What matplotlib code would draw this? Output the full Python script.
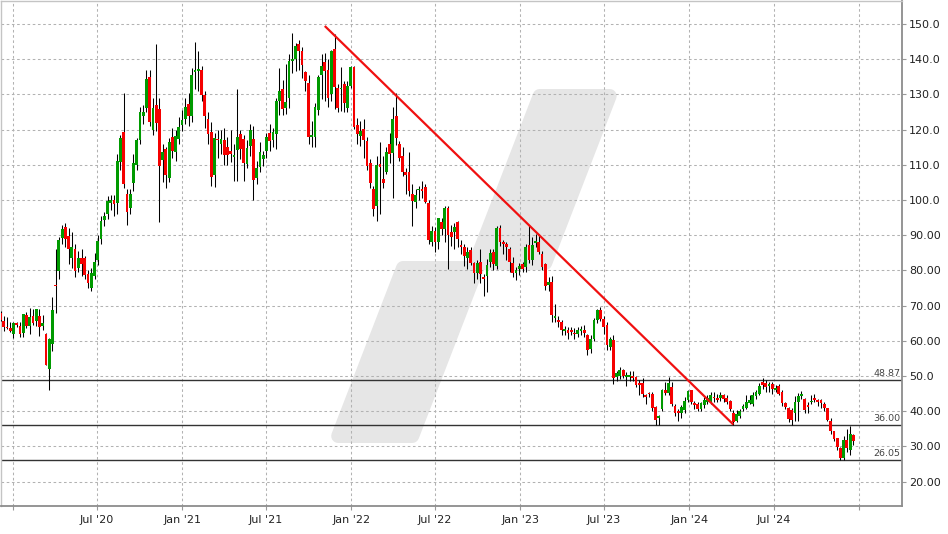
import matplotlib
matplotlib.use("Agg")
import matplotlib.pyplot as plt
import matplotlib.dates as mdates
from matplotlib.patches import Polygon
import numpy as np
import pandas as pd

# weekly candles, first week ending 2019-12-06
opens = [67.8, 65.7, 64.0, 63.5, 61.9, 65.0, 64.3, 62.1, 67.4, 64.1,
         66.9, 65.5, 67.1, 64.3, 61.9, 52.1, 59.0, 75.8, 79.8, 89.1,
         92.3, 89.8, 83.6, 86.0, 80.8, 83.4, 83.4, 78.9, 75.1, 78.4,
         82.9, 88.9, 94.4, 96.1, 99.2, 100.1, 99.2, 110.8, 119.2, 101.8,
         97.6, 104.9, 109.9, 117.0, 123.8, 126.1, 134.8, 120.0, 126.9, 125.8,
         111.2, 114.5, 106.3, 117.9, 113.7, 117.4, 121.4, 123.1, 127.3, 123.8,
         136.3, 136.5, 136.8, 129.9, 123.0, 119.2, 107.2, 117.3, 115.8, 116.9,
         115.0, 113.8, 112.3, 114.1, 118.6, 117.2, 110.1, 115.3, 117.3, 106.3,
         109.4, 111.7, 113.8, 119.0, 117.0, 118.8, 128.0, 131.5, 126.1, 128.9,
         139.6, 140.1, 144.2, 142.2, 136.2, 133.2, 117.9, 117.8, 125.5, 135.6,
         139.1, 136.9, 130.2, 142.8, 131.9, 131.5, 132.9, 126.1, 132.4, 137.8,
         121.3, 118.2, 120.1, 116.8, 110.6, 103.2, 98.3, 110.1, 105.9, 107.8,
         115.8, 113.2, 123.9, 116.0, 112.5, 107.8, 107.8, 101.6, 99.3, 102.7,
         103.1, 103.7, 99.2, 88.0, 91.3, 88.0, 93.7, 91.6, 97.8, 90.8,
         90.8, 93.7, 87.1, 86.6, 83.6, 85.7, 82.1, 79.2, 82.4, 78.1,
         78.4, 82.5, 85.2, 81.3, 92.0, 88.0, 87.5, 86.0, 82.1, 79.2,
         80.5, 81.9, 80.9, 87.1, 82.8, 87.9, 88.0, 84.7, 81.8, 75.9,
         76.8, 66.6, 66.0, 65.4, 62.7, 63.1, 63.1, 62.2, 61.9, 62.8,
         63.0, 61.6, 57.7, 60.5, 65.9, 68.8, 66.3, 64.4, 58.3, 60.2,
         49.8, 50.1, 51.7, 49.8, 49.8, 50.0, 49.6, 47.9, 47.9, 44.6,
         45.2, 44.8, 41.2, 38.1, 40.6, 46.0, 45.2, 46.9, 41.4, 40.0,
         39.5, 40.3, 43.1, 46.0, 42.4, 42.0, 40.5, 41.7, 42.6, 42.5,
         44.1, 43.8, 43.6, 44.6, 43.6, 42.9, 39.5, 37.3, 38.6, 40.6,
         41.0, 42.4, 42.0, 44.3, 45.0, 48.3, 47.9, 47.1, 47.7, 46.0,
         47.1, 45.5, 42.4, 41.0, 40.2, 39.6, 42.5, 44.2, 43.4, 41.8,
         42.5, 43.7, 43.2, 43.2, 42.1, 40.9, 37.1, 34.3, 32.3, 29.4,
         26.7, 31.9, 28.9, 33.3]
highs = [68.5, 67.1, 66.7, 65.2, 65.2, 65.2, 65.2, 67.6, 68.1, 69.3,
         69.0, 69.0, 69.0, 67.4, 62.1, 60.8, 72.4, 86.0, 89.5, 92.9,
         93.5, 92.1, 91.0, 87.5, 85.5, 86.0, 84.0, 80.0, 80.8, 85.0,
         90.0, 95.5, 96.5, 101.0, 101.5, 101.5, 113.0, 118.5, 130.3, 103.0,
         103.0, 113.0, 117.5, 126.5, 127.0, 137.0, 137.0, 129.0, 144.3, 128.9,
         116.0, 115.0, 117.5, 120.5, 120.0, 123.5, 125.5, 129.0, 130.5, 137.5,
         144.9, 142.4, 138.0, 131.0, 125.0, 122.0, 119.0, 120.0, 120.0, 120.5,
         118.0, 120.0, 116.0, 131.4, 120.0, 118.5, 117.0, 121.5, 121.0, 111.0,
         116.5, 114.0, 119.0, 121.5, 120.5, 129.0, 137.5, 134.0, 138.5, 141.5,
         147.5, 144.5, 145.5, 143.5, 136.5, 135.5, 122.5, 127.5, 135.5, 141.4,
         141.6, 140.0, 142.6, 147.1, 132.9, 137.8, 133.8, 133.8, 138.1, 138.1,
         123.4, 122.5, 122.9, 118.0, 111.5, 104.0, 112.5, 116.5, 112.5, 115.1,
         119.0, 126.4, 130.5, 116.8, 114.9, 109.2, 113.5, 104.5, 103.0, 104.0,
         105.4, 104.5, 100.1, 92.5, 92.3, 95.0, 95.0, 98.2, 98.2, 93.0,
         93.5, 94.0, 88.5, 87.5, 86.5, 86.5, 82.5, 83.0, 86.1, 79.0,
         83.3, 86.1, 86.1, 92.7, 93.0, 88.5, 88.0, 86.5, 83.7, 81.0,
         82.0, 82.5, 87.5, 92.9, 89.4, 90.4, 90.4, 85.5, 82.0, 78.1,
         78.3, 70.5, 67.0, 66.0, 64.2, 63.9, 64.0, 63.5, 64.0, 64.2,
         64.5, 62.0, 61.5, 66.5, 69.1, 69.5, 67.0, 65.3, 61.1, 61.5,
         51.5, 52.5, 52.0, 51.2, 51.4, 51.4, 50.0, 48.8, 49.3, 45.0,
         45.5, 45.4, 41.5, 38.9, 46.4, 48.2, 49.6, 48.3, 42.0, 40.7,
         41.8, 44.1, 46.0, 46.0, 42.9, 42.5, 42.6, 44.1, 44.6, 45.5,
         45.5, 45.0, 45.5, 45.0, 44.6, 43.1, 40.3, 40.3, 40.5, 42.0,
         44.6, 44.6, 45.5, 46.0, 48.0, 49.3, 48.8, 48.3, 48.3, 47.5,
         47.8, 46.0, 42.5, 41.2, 40.9, 44.2, 45.1, 45.6, 43.8, 42.5,
         44.6, 44.9, 43.5, 43.5, 42.5, 41.0, 38.0, 34.5, 32.5, 29.8,
         33.0, 34.9, 35.9, 33.5]
lows = [65.5, 62.9, 63.3, 62.5, 60.8, 64.0, 61.0, 61.0, 63.5, 61.9,
        64.5, 64.3, 61.4, 63.0, 53.1, 46.0, 57.1, 68.0, 77.5, 87.5,
        86.5, 81.7, 80.8, 78.0, 79.5, 78.4, 77.5, 75.1, 74.0, 77.5,
        81.5, 87.5, 92.5, 94.5, 97.0, 95.5, 96.0, 108.5, 103.5, 93.0,
        96.0, 102.5, 108.5, 116.0, 121.5, 125.0, 121.0, 118.5, 119.5, 93.6,
        105.0, 103.5, 105.0, 112.0, 111.0, 116.0, 119.5, 121.5, 121.0, 122.0,
        131.5, 131.0, 128.0, 120.5, 115.8, 104.0, 103.7, 112.0, 113.0, 109.8,
        110.0, 110.8, 105.5, 105.5, 111.5, 105.5, 109.0, 112.5, 100.1, 104.5,
        108.0, 109.5, 112.0, 114.0, 115.0, 114.5, 124.0, 124.0, 124.5, 126.0,
        136.0, 136.5, 137.0, 134.5, 131.0, 116.0, 114.9, 115.0, 124.0, 128.6,
        128.1, 126.3, 128.2, 125.8, 125.1, 125.3, 125.1, 125.1, 131.9, 120.1,
        116.0, 115.4, 112.0, 108.5, 103.5, 95.5, 94.0, 96.0, 103.5, 107.3,
        110.5, 100.6, 115.6, 111.1, 106.8, 101.6, 101.0, 92.6, 97.8, 100.0,
        100.5, 99.2, 87.5, 87.0, 85.2, 86.0, 90.0, 88.0, 80.3, 87.0,
        86.0, 86.5, 84.5, 81.3, 80.5, 81.5, 76.5, 77.5, 76.5, 72.6,
        73.8, 81.0, 80.0, 80.5, 87.0, 84.7, 83.0, 79.5, 78.1, 77.3,
        78.8, 79.5, 79.5, 82.0, 81.5, 86.5, 84.5, 80.0, 74.5, 74.0,
        65.4, 65.3, 64.0, 61.5, 61.5, 60.6, 61.5, 60.5, 61.0, 61.5,
        61.0, 55.9, 56.5, 60.0, 65.0, 65.5, 62.0, 57.5, 57.5, 47.8,
        48.5, 49.0, 49.5, 47.1, 48.5, 48.5, 47.0, 44.5, 44.1, 42.0,
        44.0, 40.0, 36.0, 36.0, 40.0, 44.5, 44.5, 41.5, 38.5, 37.3,
        38.1, 39.5, 42.5, 42.0, 40.5, 40.0, 40.0, 41.0, 42.0, 42.0,
        42.6, 42.5, 43.0, 42.5, 42.0, 40.0, 36.0, 36.8, 38.0, 40.0,
        40.5, 42.0, 41.5, 43.5, 44.5, 46.2, 45.5, 45.5, 45.0, 45.5,
        44.5, 41.5, 40.5, 37.0, 36.1, 37.1, 37.1, 43.5, 39.5, 39.5,
        42.0, 42.5, 41.5, 41.0, 40.0, 37.1, 33.5, 31.5, 29.0, 26.2,
        26.1, 28.5, 27.6, 30.5]
closes = [66.0, 64.0, 63.5, 62.9, 65.0, 64.4, 61.9, 67.6, 64.1, 66.7,
          65.0, 68.9, 63.8, 65.0, 53.1, 60.5, 68.7, 75.5, 88.5, 91.6,
          88.8, 86.0, 86.5, 79.8, 83.6, 81.7, 78.8, 76.5, 79.3, 82.5,
          88.3, 94.0, 95.3, 99.7, 100.1, 98.9, 111.0, 117.6, 104.4, 96.7,
          101.8, 110.4, 117.0, 124.9, 124.9, 134.3, 122.2, 126.1, 121.9, 109.7,
          113.6, 107.2, 116.4, 114.0, 118.1, 120.7, 122.8, 126.3, 123.7, 135.6,
          137.0, 137.1, 129.9, 123.8, 118.6, 106.6, 117.6, 116.9, 117.3, 112.7,
          112.7, 113.1, 112.9, 117.9, 114.5, 110.5, 114.8, 120.0, 105.8, 109.1,
          113.6, 112.9, 117.9, 116.7, 119.2, 128.0, 130.8, 125.8, 127.7, 139.6,
          140.1, 143.6, 142.2, 138.2, 133.9, 117.8, 118.4, 126.3, 134.8, 137.9,
          136.7, 128.9, 142.4, 132.2, 126.1, 131.9, 127.4, 132.4, 137.8, 120.8,
          118.7, 119.6, 117.0, 109.7, 104.9, 97.3, 110.0, 109.4, 104.9, 113.6,
          113.0, 122.9, 117.5, 111.8, 107.8, 107.1, 102.6, 99.7, 101.4, 103.1,
          102.4, 99.5, 88.5, 91.3, 88.0, 94.8, 91.8, 97.8, 90.0, 89.4,
          92.3, 88.8, 86.6, 84.2, 85.3, 82.1, 79.2, 82.1, 78.9, 77.6,
          81.4, 84.9, 81.8, 92.0, 88.1, 87.4, 86.6, 82.3, 79.2, 80.2,
          81.1, 80.5, 86.6, 82.8, 87.1, 88.4, 85.1, 80.9, 75.6, 76.6,
          67.3, 67.0, 65.3, 63.1, 63.2, 62.3, 62.4, 61.9, 63.0, 63.2,
          62.3, 57.5, 60.4, 65.9, 68.8, 66.3, 63.8, 58.8, 60.4, 49.5,
          50.8, 51.7, 50.1, 50.1, 50.0, 49.5, 47.4, 47.4, 44.8, 44.1,
          44.8, 41.0, 37.4, 38.6, 46.0, 45.2, 47.9, 42.0, 39.5, 39.5,
          41.2, 42.9, 45.7, 42.6, 41.7, 40.5, 42.2, 43.1, 43.6, 44.6,
          43.6, 43.3, 44.6, 43.4, 42.6, 40.5, 37.0, 39.3, 40.1, 41.4,
          42.7, 43.3, 44.7, 45.5, 47.1, 47.4, 46.9, 47.7, 46.2, 46.7,
          45.0, 42.3, 41.2, 37.9, 37.5, 42.5, 44.3, 44.9, 40.2, 41.3,
          42.9, 43.2, 42.5, 42.3, 40.9, 37.5, 34.5, 32.1, 29.8, 26.7,
          31.9, 29.5, 33.5, 31.4]
weeks = pd.date_range("2019-12-06", periods=len(opens), freq="7D")

levels = [48.87, 36.00, 26.05]
level_labels = ["48.87", "36.00", "26.05"]

trend_dates = ["2021-11-05", "2024-04-05"]
trend_values = [149.4, 36.2]

y_ticks = [20, 30, 40, 50, 60, 70, 80, 90, 100, 110, 120, 130, 140, 150]
y_labels = ["20.00", "30.00", "40.00", "50.0", "60.00", "70.00", "80.00",
            "90.00", "100.0", "110.0", "120.0", "130.0", "140.0", "150.0"]
x_tick_dates = ["2020-01-01", "2020-07-01", "2021-01-01", "2021-07-01",
                "2022-01-01", "2022-07-01", "2023-01-01", "2023-07-01",
                "2024-01-01", "2024-07-01", "2025-01-01"]
x_labels = ["", "Jul '20", "Jan '21", "Jul '21", "Jan '22", "Jul '22",
            "Jan '23", "Jul '23", "Jan '24", "Jul '24", ""]

GREEN = "#009a00"
RED = "#f50000"

W, H = 948, 534
fig = plt.figure(figsize=(W / 100, H / 100), dpi=100)
ax = fig.add_axes([0.5 / W, 28.3 / H, 901.5 / W, 504.7 / H])

ax.set_xlim(mdates.date2num(pd.Timestamp("2019-12-06")),
            mdates.date2num(pd.Timestamp("2025-04-04")))
ax.set_ylim(13.15, 156.5)

# watermark logo (two slanted rounded bars), pixel coords -> axes fraction
def px2ax(pts):
    return [((px - 0.5) / 901.5, (505.7 - py) / 504.7) for px, py in pts]

r = 7
k = 0.386  # slant dx/dy
def slanted(x_bl, x_br, y_bot, y_top):
    hx = r * 1.07
    yb, yt = y_bot - r, y_top + r
    return [(x_bl + (y_bot - yb) * k + hx, yb),
            (x_br + (y_bot - yb) * k - hx, yb),
            (x_br + (y_bot - yt) * k - hx, yt),
            (x_bl + (y_bot - yt) * k + hx, yt)]

for shape in [slanted(328, 417, 443, 261), slanted(465, 550, 270, 89)]:
    ax.add_patch(Polygon(px2ax(shape), closed=True, transform=ax.transAxes,
                         facecolor="#e6e6e6", edgecolor="#e6e6e6",
                         linewidth=2 * r * 0.72, joinstyle="round", zorder=0.2))

ax.set_axisbelow(True)
ax.grid(True, color="#b2b2b2", linestyle=(0, (2.5, 2.5)), linewidth=0.75)

for lv, lab in zip(levels, level_labels):
    ax.axhline(lv, color="#333333", linewidth=1.0, zorder=2)
    ax.annotate(lab, xy=(1.0, lv), xycoords=("axes fraction", "data"),
                xytext=(-1, 1.5), textcoords="offset points",
                ha="right", va="bottom", fontsize=6.8, color="#444444")

x = mdates.date2num(weeks)
o = np.array(opens)
c = np.array(closes)
hi = np.array(highs)
lo = np.array(lows)
colors = np.where(c >= o, GREEN, RED)
ax.vlines(x, lo, hi, color="black", linewidth=0.75, zorder=3)
ax.bar(x, np.maximum(np.abs(c - o), 0.35), bottom=np.minimum(o, c), width=6.0,
       color=colors, edgecolor="none", linewidth=0, zorder=4)

ax.plot(pd.to_datetime(trend_dates), trend_values, color="#f01010",
        linewidth=1.6, zorder=5, solid_capstyle="butt")

ax.yaxis.tick_right()
ax.set_yticks(y_ticks)
ax.set_yticklabels(y_labels)
ax.set_xticks(mdates.date2num(pd.to_datetime(x_tick_dates)))
ax.set_xticklabels(x_labels)
ax.tick_params(axis="both", labelsize=8, colors="#222222", length=3,
               width=0.8, pad=2)
ax.tick_params(axis="both", color="#999999")
ax.tick_params(axis="x", pad=4)

for side in ["left", "top"]:
    ax.spines[side].set_color("#c4c4c4")
    ax.spines[side].set_linewidth(1.0)
for side in ["right", "bottom"]:
    ax.spines[side].set_color("#8c8c8c")
    ax.spines[side].set_linewidth(1.3)

fig.savefig("out.png", dpi=100)
